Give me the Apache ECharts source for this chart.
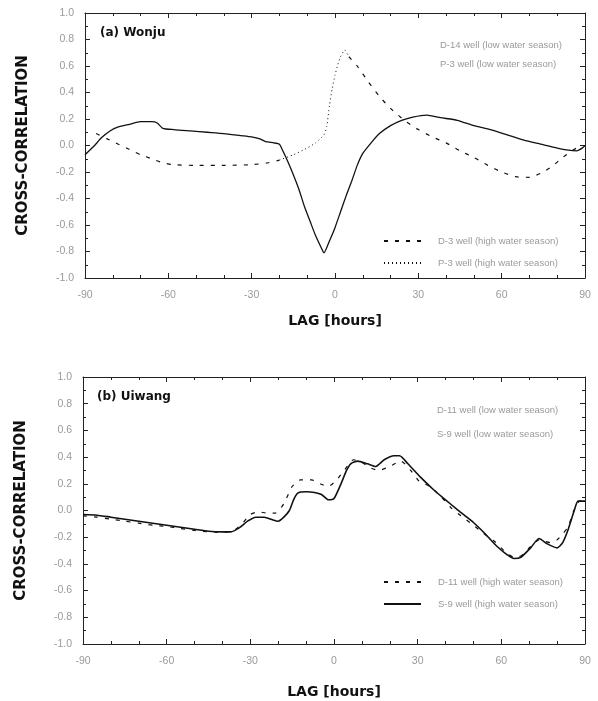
<!DOCTYPE html>
<html>
<head>
<meta charset="utf-8">
<script src="https://cdn.jsdelivr.net/npm/echarts@6/dist/echarts.min.js"></script>
<style>
  html, body { margin: 0; padding: 0; background: #fff; }
  #chart { width: 598px; height: 701px; }
</style>
</head>
<body>
<div id="chart"></div>
<script>
// (a) Wonju
const aSolidLag = [-90, -87, -84, -81, -78, -74, -70, -66, -64, -62, -58, -52, -46, -40, -34, -30, -27, -25, -22, -20, -19, -17, -15, -13, -11, -9, -7, -5, -4, -2, 0, 2, 4, 6, 8, 10, 13, 16, 20, 24, 28, 33, 38, 44, 50, 56, 62, 68, 74, 80, 84, 87, 89, 90];
const aSolidVal = [-0.07, -0.01, 0.06, 0.11, 0.14, 0.16, 0.18, 0.18, 0.17, 0.13, 0.12, 0.11, 0.10, 0.09, 0.075, 0.065, 0.05, 0.03, 0.02, 0.01, -0.03, -0.12, -0.22, -0.33, -0.46, -0.57, -0.68, -0.77, -0.81, -0.72, -0.62, -0.50, -0.38, -0.27, -0.15, -0.06, 0.02, 0.09, 0.15, 0.19, 0.215, 0.23, 0.21, 0.19, 0.15, 0.12, 0.08, 0.04, 0.01, -0.02, -0.035, -0.04, -0.02, 0.0];

const aDash1Lag = [-86, -82, -78, -74, -70, -66, -62, -58, -50, -40, -30, -24, -20];
const aDash1Val = [0.09, 0.05, 0.01, -0.03, -0.07, -0.10, -0.13, -0.145, -0.15, -0.15, -0.145, -0.13, -0.11];
const aDash2Lag = [5, 8, 12, 16, 20, 25, 30, 35, 40, 45, 50, 55, 60, 65, 70, 74, 78, 82, 86, 89];
const aDash2Val = [0.67, 0.60, 0.48, 0.37, 0.28, 0.19, 0.12, 0.065, 0.02, -0.04, -0.09, -0.15, -0.20, -0.235, -0.24, -0.21, -0.16, -0.09, -0.03, 0.0];

const aDotLag = [-20, -15, -11, -7, -4, -3, -2, -1, 0, 1, 2, 3.5, 5];
const aDotVal = [-0.11, -0.07, -0.03, 0.02, 0.08, 0.14, 0.30, 0.43, 0.53, 0.61, 0.67, 0.72, 0.67];

// (b) Uiwang
const bSolidLag = [-90, -85, -80, -75, -70, -65, -60, -55, -50, -45, -40, -37, -34, -31, -28, -25, -22, -20, -18, -16, -14.5, -13, -10, -7, -4.5, -2, 0, 2.5, 4.5, 6, 8.5, 12, 15, 18, 21.5, 23.5, 26.5, 31, 36, 40, 44, 47, 50, 54, 58.5, 62, 64.5, 67, 70.5, 73.5, 76.5, 80, 82, 84, 86, 87.5, 90];
const bSolidVal = [-0.03, -0.035, -0.05, -0.065, -0.08, -0.095, -0.11, -0.125, -0.14, -0.155, -0.16, -0.16, -0.13, -0.08, -0.05, -0.05, -0.07, -0.08, -0.05, 0.0, 0.08, 0.13, 0.14, 0.135, 0.12, 0.08, 0.09, 0.20, 0.30, 0.35, 0.37, 0.35, 0.33, 0.38, 0.41, 0.41, 0.35, 0.25, 0.15, 0.08, 0.01, -0.04, -0.09, -0.17, -0.27, -0.33, -0.36, -0.35, -0.28, -0.21, -0.25, -0.28, -0.24, -0.14, -0.01, 0.07, 0.07];

const bDashLag = [-90, -85, -80, -75, -70, -65, -60, -55, -50, -45, -40, -36, -33, -30, -27, -24, -21, -18, -15, -12, -8, -5, -2, 1, 4, 7, 10, 13, 16, 20, 24, 27.5, 30.5, 34.5, 38.5, 42, 45.5, 50, 53.5, 57.5, 61, 64.5, 67, 70.5, 73.5, 77.5, 80, 82.2, 84, 86, 88, 90];
const bDashVal = [-0.04, -0.05, -0.065, -0.08, -0.095, -0.11, -0.12, -0.135, -0.15, -0.16, -0.165, -0.15, -0.10, -0.03, -0.01, -0.02, -0.02, 0.05, 0.18, 0.23, 0.23, 0.20, 0.18, 0.23, 0.31, 0.38, 0.36, 0.32, 0.30, 0.33, 0.37, 0.30, 0.22, 0.18, 0.10, 0.02, -0.04, -0.11, -0.17, -0.23, -0.30, -0.35, -0.34, -0.27, -0.22, -0.24, -0.22, -0.17, -0.12, 0.0, 0.07, 0.08];

const xTicks = [-90, -60, -30, 0, 30, 60, 90];

const aNames = ['D-14 well (low water season)', 'P-3 well (low water season)', 'D-3 well (high water season)', 'P-3 well (high water season)'];
const bNames = ['D-11 well (low water season)', 'S-9 well (low water season)', 'D-11 well (high water season)', 'S-9 well (high water season)'];

function pairs(lags, vals) {
  return lags.map((x, i) => [x, vals[i]]);
}

const chart = echarts.init(document.getElementById('chart'));

const FONT = '"Liberation Sans", Arial, sans-serif';
const BOLD_FONT = '"DejaVu Sans", Verdana, sans-serif';
const AXIS_COLOR = '#222';
const LABEL_COLOR = '#9a9a9a';

function xAxisPair(gridIndex, gap) {
  const base = {
    type: 'value',
    gridIndex: gridIndex,
    min: -90,
    max: 90,
    interval: 30,
    axisLine: { show: true, onZero: false, lineStyle: { color: AXIS_COLOR, width: 1 } },
    axisTick: { show: true, inside: true, length: 5, lineStyle: { color: AXIS_COLOR } },
    minorTick: { show: true, splitNumber: 3, length: 3, lineStyle: { color: AXIS_COLOR } },
    splitLine: { show: false },
  };
  return [
    Object.assign({}, base, {
      position: 'bottom',
      name: 'LAG [hours]',
      nameLocation: 'middle',
      nameGap: gap,
      nameTextStyle: { fontFamily: BOLD_FONT, fontWeight: 'bold', fontSize: 14, color: '#111' },
      axisLabel: {
        margin: 12,
        color: LABEL_COLOR,
        fontSize: 10.5,
        fontFamily: FONT,
        customValues: xTicks,
        formatter: (v) => String(v),
      },
    }),
    Object.assign({}, base, { position: 'top', axisLabel: { show: false } }),
  ];
}

function yAxisPair(gridIndex) {
  const base = {
    type: 'value',
    gridIndex: gridIndex,
    min: -1,
    max: 1,
    interval: 0.2,
    axisLine: { show: true, onZero: false, lineStyle: { color: AXIS_COLOR, width: 1 } },
    axisTick: { show: true, inside: true, length: 5, lineStyle: { color: AXIS_COLOR } },
    minorTick: { show: true, splitNumber: 2, length: 3, lineStyle: { color: AXIS_COLOR } },
    splitLine: { show: false },
  };
  return [
    Object.assign({}, base, {
      position: 'left',
      name: 'CROSS-CORRELATION',
      nameLocation: 'middle',
      nameGap: 54,
      nameTextStyle: { fontFamily: BOLD_FONT, fontWeight: 'bold', fontSize: 15, color: '#111' },
      axisLabel: {
        margin: 11,
        color: LABEL_COLOR,
        fontSize: 10.5,
        fontFamily: FONT,
        formatter: (v) => v.toFixed(1),
      },
    }),
    Object.assign({}, base, { position: 'right', axisLabel: { show: false } }),
  ];
}

function line(name, xi, yi, data, style) {
  return {
    name: name,
    type: 'line',
    xAxisIndex: xi,
    yAxisIndex: yi,
    data: data,
    symbol: 'none',
    smooth: 0.2,
    lineStyle: Object.assign({ color: '#111', width: 1.2 }, style),
    itemStyle: { color: '#111' },
    z: 3,
  };
}

const legendBase = {
  orient: 'vertical',
  itemWidth: 37,
  itemHeight: 10,
  itemGap: 12,
  selectedMode: false,
  // hide the marker circle, keep the line sample
  itemStyle: { opacity: 0 },
  textStyle: { color: LABEL_COLOR, fontSize: 9.5, fontFamily: FONT, padding: [0, 0, 0, 12] },
};

const option = {
  animation: false,
  backgroundColor: '#fff',
  textStyle: { fontFamily: FONT },
  grid: [
    { left: 85, top: 13, width: 500, height: 265 },
    { left: 83, top: 377, width: 502, height: 267 },
  ],
  xAxis: [].concat(xAxisPair(0, 36), xAxisPair(1, 41)),
  yAxis: [].concat(yAxisPair(0), yAxisPair(1)),
  legend: [
    Object.assign({}, legendBase, { data: [aNames[2], aNames[3]], left: 378, top: 231 }),
    Object.assign({}, legendBase, { data: [bNames[2], bNames[3]], left: 378, top: 572 }),
  ],
  graphic: [
    { type: 'text', left: 100, top: 27, style: { text: '(a) Wonju', font: 'bold 12px ' + BOLD_FONT, fill: '#111' } },
    { type: 'text', left: 97, top: 391, style: { text: '(b) Uiwang', font: 'bold 12px ' + BOLD_FONT, fill: '#111' } },
    { type: 'text', left: 440, top: 40, style: { text: aNames[0], font: '9.5px ' + FONT, fill: LABEL_COLOR } },
    { type: 'text', left: 440, top: 59, style: { text: aNames[1], font: '9.5px ' + FONT, fill: LABEL_COLOR } },
    { type: 'text', left: 437, top: 405, style: { text: bNames[0], font: '9.5px ' + FONT, fill: LABEL_COLOR } },
    { type: 'text', left: 437, top: 429, style: { text: bNames[1], font: '9.5px ' + FONT, fill: LABEL_COLOR } },
  ],
  series: [
    line(aNames[2], 0, 0, pairs(aDash1Lag, aDash1Val), { type: [4, 7] }),
    line(aNames[2], 0, 0, pairs(aDash2Lag, aDash2Val), { type: [4, 7] }),
    line(aNames[3], 0, 0, pairs(aDotLag, aDotVal), { type: [1, 3], width: 1 }),
    line('a-solid', 0, 0, pairs(aSolidLag, aSolidVal), { width: 1.3 }),
    line(bNames[2], 2, 2, pairs(bDashLag, bDashVal), { type: [4, 7] }),
    line(bNames[3], 2, 2, pairs(bSolidLag, bSolidVal), { width: 1.6 }),
  ],
};

chart.setOption(option);
</script>
</body>
</html>
